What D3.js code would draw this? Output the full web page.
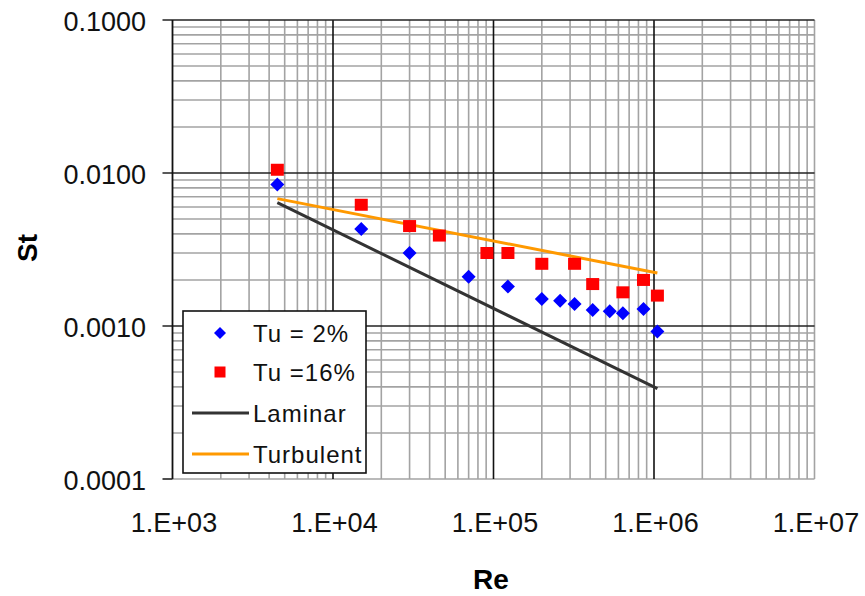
<!DOCTYPE html>
<html>
<head>
<meta charset="utf-8">
<script src="https://cdn.jsdelivr.net/npm/d3@7"></script>
<style>
	body { margin: 0; background: #fff; }
	text { font-family: "Liberation Sans", Arial, sans-serif; }
</style>
</head>
<body>
<script>
// data
var reLow = [4500, 15000, 30000, 70000, 123000, 200000, 260000, 320000, 415000, 530000, 640000, 860000, 1050000];
var stLow = [0.0084, 0.0043, 0.0030, 0.0021, 0.00181, 0.00150, 0.00146, 0.00139, 0.00127, 0.00125, 0.00121, 0.00129, 0.00092];

var reHigh = [4500, 15000, 30000, 46000, 91000, 123000, 200000, 320000, 415000, 640000, 860000, 1050000];
var stHigh = [0.0105, 0.0062, 0.0045, 0.0039, 0.0030, 0.0030, 0.00255, 0.00255, 0.00188, 0.00166, 0.00200, 0.00158];

var reLaminar = [4500, 1050000];
var stLaminar = [0.0064, 0.00039];

var reTurb = [4500, 1050000];
var stTurb = [0.0068, 0.00222];

var xTickLabels = ['1.E+03', '1.E+04', '1.E+05', '1.E+06', '1.E+07'];
var yTickLabels = ['0.0001', '0.0010', '0.0100', '0.1000'];
var legendNames = ['Tu = 2%', 'Tu =16%', 'Laminar', 'Turbulent'];

var width = 865,
	height = 596;

// plot area (note: "top" is reserved on window, so use other names)
var pLeft = 172.5, pRight = 814.5, pTop = 20, pBottom = 479;

var svg = d3.select('body')
	.append('svg')
	.attr('width', width)
	.attr('height', height);

// log scales
var x = d3.scaleLog().domain([1e3, 1e7]).range([pLeft, pRight]);
var y = d3.scaleLog().domain([1e-4, 1e-1]).range([pBottom, pTop]);

function isMajor(v) {
	var l = Math.log10(v);
	return Math.abs(l - Math.round(l)) < 1e-9;
}

var grid = svg.append('g');

// minor grid first, majors on top
var xTicks = x.ticks(), yTicks = y.ticks();

grid.selectAll('.vminor')
	.data(xTicks.filter(function(d) { return !isMajor(d) || d === 1e7; }))
	.enter().append('line')
	.attr('x1', function(d) { return x(d); })
	.attr('x2', function(d) { return x(d); })
	.attr('y1', pTop).attr('y2', pBottom)
	.attr('stroke', '#a3a3a3').attr('stroke-width', 1.6);

grid.selectAll('.hminor')
	.data(yTicks.filter(function(d) { return !isMajor(d) || d === 1e-4; }))
	.enter().append('line')
	.attr('y1', function(d) { return y(d); })
	.attr('y2', function(d) { return y(d); })
	.attr('x1', pLeft).attr('x2', pRight)
	.attr('stroke', '#a3a3a3').attr('stroke-width', 1.6);

// major grid lines (black)
grid.selectAll('.vmajor')
	.data([1e4, 1e5, 1e6])
	.enter().append('line')
	.attr('x1', function(d) { return x(d); })
	.attr('x2', function(d) { return x(d); })
	.attr('y1', pTop).attr('y2', pBottom)
	.attr('stroke', '#111').attr('stroke-width', 1.6);

grid.selectAll('.hmajor')
	.data([1e-3, 1e-2, 1e-1])
	.enter().append('line')
	.attr('y1', function(d) { return y(d); })
	.attr('y2', function(d) { return y(d); })
	.attr('x1', pLeft - 10).attr('x2', pRight)
	.attr('stroke', '#222').attr('stroke-width', 1.6);

// y axis line + outer tick at 0.0001
grid.append('line')
	.attr('x1', pLeft).attr('x2', pLeft)
	.attr('y1', pTop).attr('y2', pBottom)
	.attr('stroke', '#111').attr('stroke-width', 1.8);
grid.append('line')
	.attr('x1', pLeft - 10).attr('x2', pLeft)
	.attr('y1', y(1e-4)).attr('y2', y(1e-4))
	.attr('stroke', '#222').attr('stroke-width', 1.6);

// tick labels
svg.selectAll('.ylab')
	.data(yTickLabels)
	.enter().append('text')
	.attr('x', 146)
	.attr('y', function(d) { return y(+d) + 11; })
	.attr('text-anchor', 'end')
	.attr('font-size', 27)
	.attr('fill', '#111')
	.text(function(d) { return d; });

svg.selectAll('.xlab')
	.data(xTickLabels)
	.enter().append('text')
	.attr('x', function(d) { return x(+d) + 1.5; })
	.attr('y', 532)
	.attr('text-anchor', 'middle')
	.attr('font-size', 27)
	.attr('fill', '#111')
	.text(function(d) { return d; });

// axis titles
svg.append('text')
	.attr('x', 491).attr('y', 589)
	.attr('text-anchor', 'middle')
	.attr('font-size', 28).attr('font-weight', 'bold')
	.text('Re');

svg.append('text')
	.attr('transform', 'translate(37,248) rotate(-90)')
	.attr('text-anchor', 'middle')
	.attr('font-size', 28).attr('font-weight', 'bold')
	.text('St');

// lines
var line = d3.line()
	.x(function(d) { return x(d[0]); })
	.y(function(d) { return y(d[1]); });

svg.append('path')
	.datum(d3.zip(reLaminar, stLaminar))
	.attr('d', line)
	.attr('fill', 'none')
	.attr('stroke', '#333')
	.attr('stroke-width', 3);

svg.append('path')
	.datum(d3.zip(reTurb, stTurb))
	.attr('d', line)
	.attr('fill', 'none')
	.attr('stroke', '#ff9900')
	.attr('stroke-width', 3);

// markers
function diamond(s) {
	return 'M0,' + (-s) + 'L' + s + ',0L0,' + s + 'L' + (-s) + ',0Z';
}

svg.selectAll('.sq')
	.data(d3.zip(reHigh, stHigh))
	.enter().append('rect')
	.attr('x', function(d) { return x(d[0]) - 6.5; })
	.attr('y', function(d) { return y(d[1]) - 6; })
	.attr('width', 13).attr('height', 12)
	.attr('fill', '#ff0000');

svg.selectAll('.dm')
	.data(d3.zip(reLow, stLow))
	.enter().append('path')
	.attr('transform', function(d) { return 'translate(' + x(d[0]) + ',' + y(d[1]) + ')'; })
	.attr('d', diamond(7))
	.attr('fill', '#0000ff');

// legend
var legend = svg.append('g');

legend.append('rect')
	.attr('x', 183).attr('y', 311)
	.attr('width', 183).attr('height', 162)
	.attr('fill', '#fff')
	.attr('stroke', '#111').attr('stroke-width', 1.6);

var rowY = [333, 372, 413, 454];

legend.append('path')
	.attr('transform', 'translate(220,' + rowY[0] + ')')
	.attr('d', diamond(6))
	.attr('fill', '#0000ff');

legend.append('rect')
	.attr('x', 214.5).attr('y', rowY[1] - 5.5)
	.attr('width', 11).attr('height', 11)
	.attr('fill', '#ff0000');

legend.append('line')
	.attr('x1', 192).attr('x2', 249)
	.attr('y1', rowY[2]).attr('y2', rowY[2])
	.attr('stroke', '#333').attr('stroke-width', 3);

legend.append('line')
	.attr('x1', 192).attr('x2', 249)
	.attr('y1', rowY[3]).attr('y2', rowY[3])
	.attr('stroke', '#ff9900').attr('stroke-width', 3);

legend.selectAll('.ltxt')
	.data(legendNames)
	.enter().append('text')
	.attr('x', 253)
	.attr('y', function(d, i) { return rowY[i] + 9; })
	.attr('font-size', 24)
	.attr('letter-spacing', 1)
	.attr('fill', '#111')
	.text(function(d) { return d; });
</script>
</body>
</html>
